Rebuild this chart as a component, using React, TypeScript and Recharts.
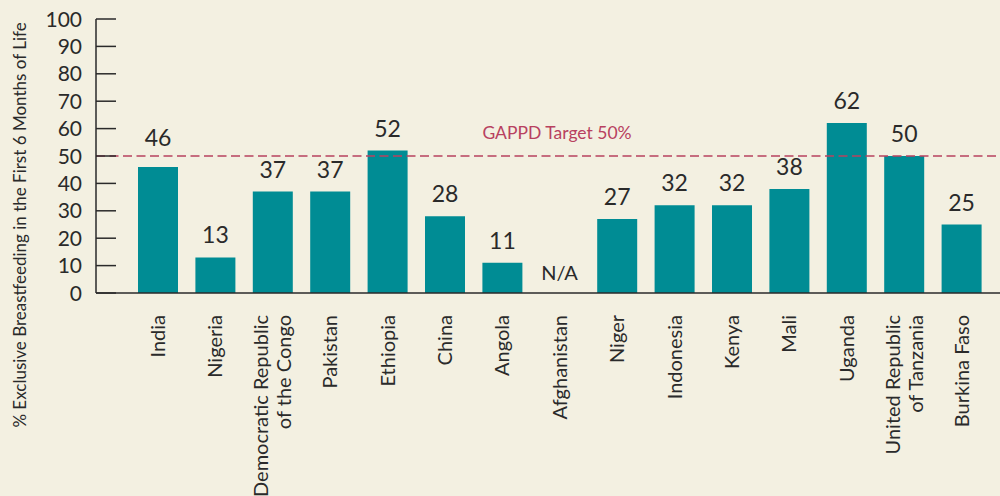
import React from 'react';
import { BarChart, Bar, XAxis, YAxis, ReferenceLine, LabelList, Label } from 'recharts';

const categories: string[] = [
  'India',
  'Nigeria',
  'Democratic Republic\nof the Congo',
  'Pakistan',
  'Ethiopia',
  'China',
  'Angola',
  'Afghanistan',
  'Niger',
  'Indonesia',
  'Kenya',
  'Mali',
  'Uganda',
  'United Republic\nof Tanzania',
  'Burkina Faso',
];
const values: (number | null)[] = [46, 13, 37, 37, 52, 28, 11, null, 27, 32, 32, 38, 62, 50, 25];
const yTicks: number[] = [0, 10, 20, 30, 40, 50, 60, 70, 80, 90, 100];
const targetValue = 50;
const targetLabel = 'GAPPD Target 50%';
const yAxisTitle = '% Exclusive Breastfeeding in the First 6 Months of Life';
const missingLabel = 'N/A';

const data = categories.map((c, i) => ({ country: c, value: values[i] }));

const FONT = 'Lato, "DejaVu Sans", sans-serif';
const WEIGHT = 400;
const TEXT = '#2a2a2a';
const TEAL = '#008C94';
const RED = '#B8415F';
const BG = '#F3F0E1';
const LABEL_GAP = 14;
const EXTRA_LIFT: Record<string, number> = { India: 7 };

const YTick = (props: any) => {
  const { x, y, payload } = props;
  return (
    <g>
      <text x={x} y={y} dy="0.36em" textAnchor="end" fontSize={21} fontWeight={WEIGHT} fill={TEXT} fontFamily={FONT}>
        {payload.value}
      </text>
      <line x1={x + 14} x2={x + 34} y1={y} y2={y} stroke={TEXT} strokeWidth={1.5} />
    </g>
  );
};

const XTick = (props: any) => {
  const { x, y, payload, index } = props;
  const lines = String(payload.value).split('\n');
  const lh = 23;
  const start = -((lines.length - 1) * lh) / 2;
  return (
    <g>
      {lines.map((ln, i) => (
        <text
          key={i}
          transform={`translate(${x + start + i * lh},${y}) rotate(-90)`}
          dy="0.36em"
          textAnchor="end"
          fontSize={20}
          fontWeight={WEIGHT}
          fill={TEXT}
          fontFamily={FONT}
        >
          {ln}
        </text>
      ))}
      {values[index] == null && (
        <text x={x} y={y - 35} textAnchor="middle" fontSize={20} fontWeight={WEIGHT} fill={TEXT} fontFamily={FONT}>
          {missingLabel}
        </text>
      )}
    </g>
  );
};

const ValueLabel = (props: any) => {
  const { x, y, width, value, index } = props;
  if (value == null) return null;
  const lift = EXTRA_LIFT[categories[index]] || 0;
  return (
    <text
      x={x + width / 2}
      y={y - LABEL_GAP - lift}
      textAnchor="middle"
      fontSize={23}
      fontWeight={WEIGHT}
      fill={TEXT}
      fontFamily={FONT}
    >
      {value}
    </text>
  );
};

const YTitle = (props: any) => {
  const { viewBox } = props;
  const cx = viewBox.x + 20;
  const cy = viewBox.y + viewBox.height / 2 + 69;
  return (
    <text
      transform={`translate(${cx},${cy}) rotate(-90)`}
      textAnchor="middle"
      dy="0.36em"
      fontSize={17}
      fontWeight={WEIGHT}
      fill={TEXT}
      fontFamily={FONT}
    >
      {yAxisTitle}
    </text>
  );
};

const TargetLabel = (props: any) => {
  const { viewBox } = props;
  return (
    <text
      x={viewBox.x + viewBox.width / 2 + 9}
      y={viewBox.y - 17}
      textAnchor="middle"
      fontSize={17.5}
      fontWeight={WEIGHT}
      fill={RED}
      fontFamily={FONT}
    >
      {targetLabel}
    </text>
  );
};

export default function App() {
  return (
    <div style={{ position: 'absolute', left: 0, top: 0, width: 1000, height: 496, background: BG }}>
      <BarChart
        width={1000}
        height={496}
        data={data}
        margin={{ top: 19, right: 0, bottom: 0, left: 0 }}
        barSize={40}
      >
        <XAxis
          dataKey="country"
          interval={0}
          tickLine={false}
          tickSize={0}
          tickMargin={22}
          height={203}
          padding={{ left: 33, right: 10 }}
          axisLine={{ stroke: TEXT, strokeWidth: 1.5 }}
          tick={<XTick />}
        />
        <YAxis
          type="number"
          domain={[0, 100]}
          ticks={yTicks}
          interval={0}
          width={96}
          tickLine={false}
          tickSize={0}
          tickMargin={14}
          axisLine={{ stroke: TEXT, strokeWidth: 1.5 }}
          tick={<YTick />}
          label={<Label content={<YTitle />} />}
        />
        <Bar dataKey="value" fill={TEAL} isAnimationActive={false}>
          <LabelList dataKey="value" content={<ValueLabel />} />
        </Bar>
        <ReferenceLine
          y={targetValue}
          stroke={RED}
          strokeWidth={1.5}
          strokeDasharray="9 4.5"
          label={<Label content={<TargetLabel />} />}
        />
      </BarChart>
    </div>
  );
}
